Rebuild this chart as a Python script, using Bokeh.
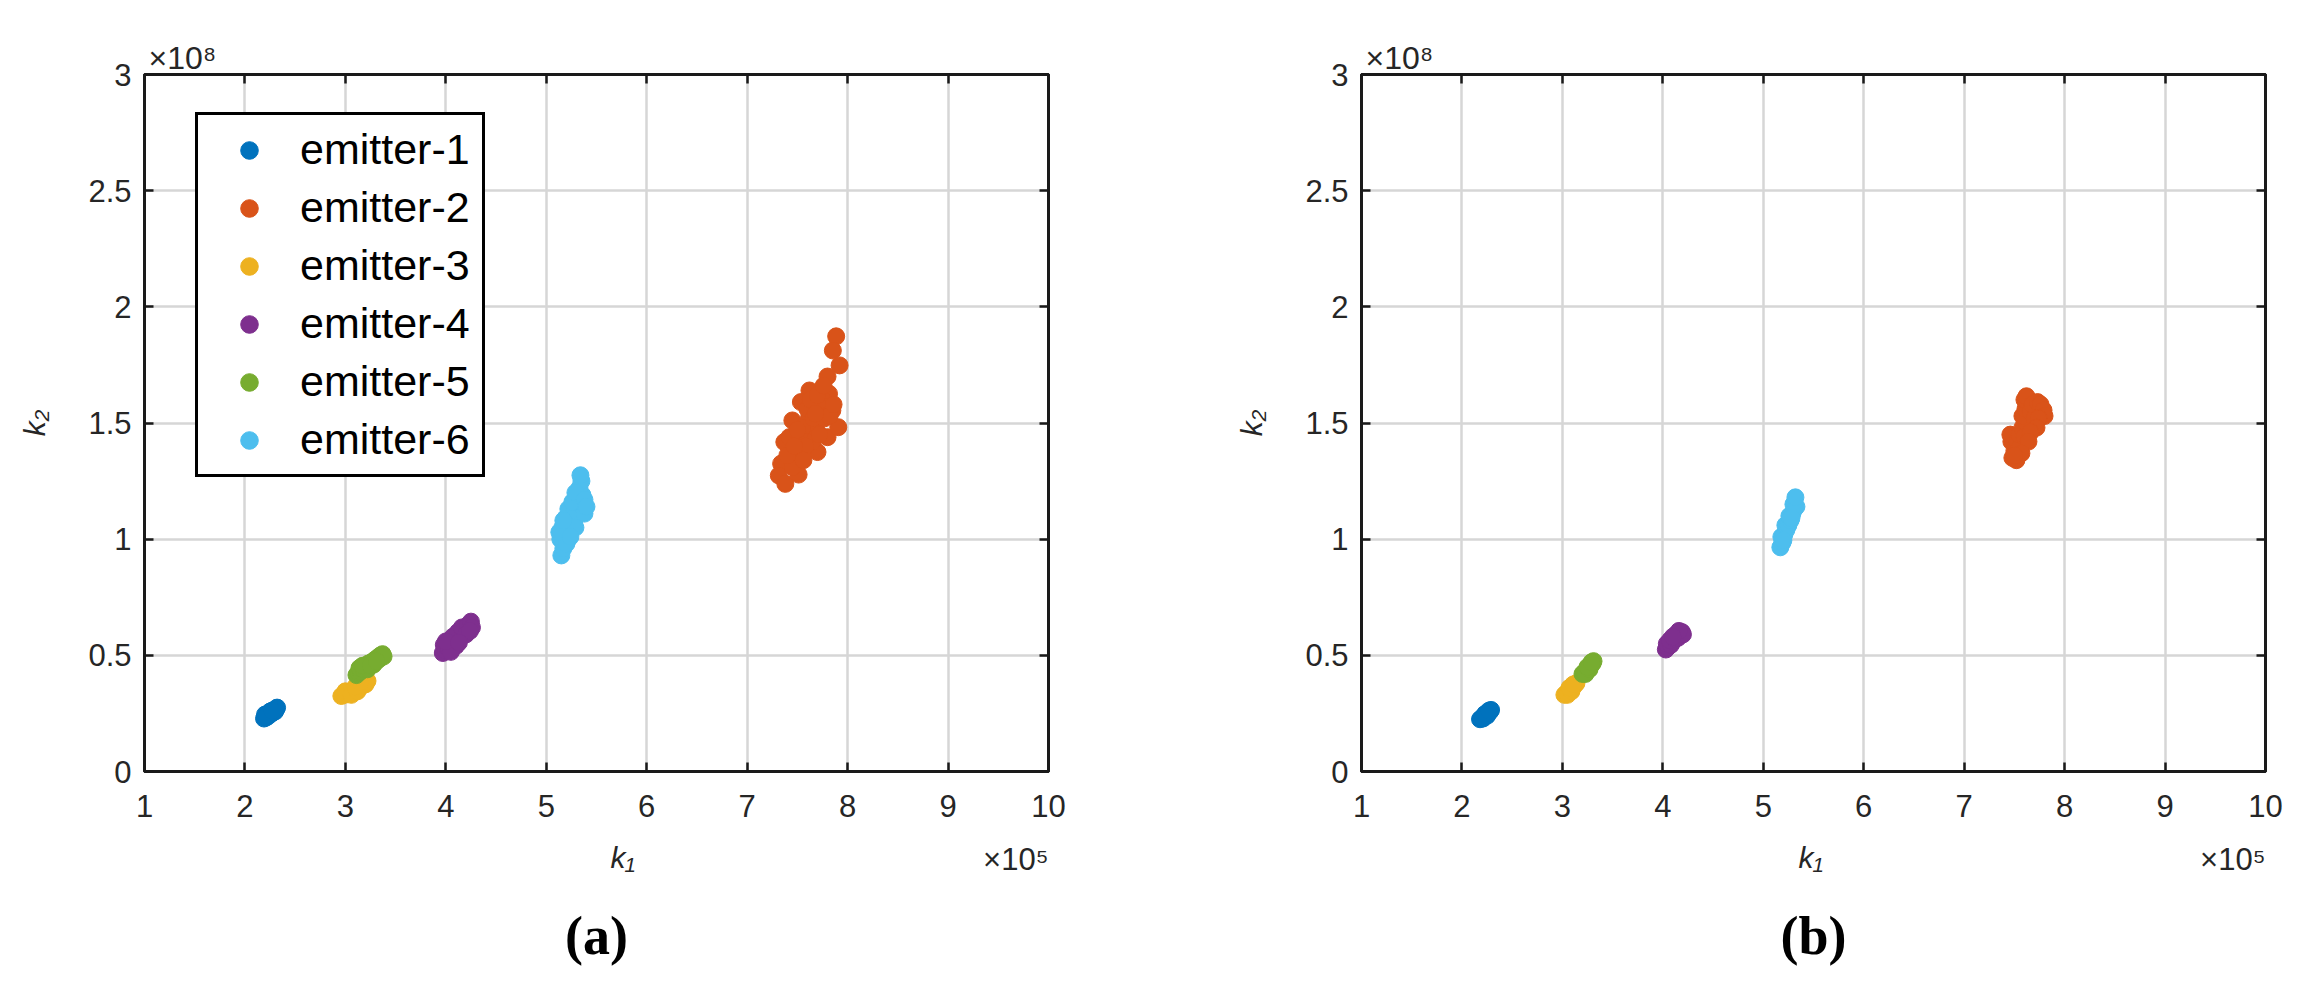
from bokeh.plotting import figure
from bokeh.models import (LinearAxis, FixedTicker, Legend, LegendItem, Title,
                          CustomJSTickFormatter, Range1d)
from bokeh.layouts import row
from bokeh.embed import file_html
from bokeh.resources import INLINE

# ---------------- data ----------------
emitters = ["emitter-1", "emitter-2", "emitter-3", "emitter-4", "emitter-5", "emitter-6"]
colors = ["#0072BD", "#D95319", "#EDB120", "#7E2F8E", "#77AC30", "#4DBEEE"]

x_ticks = [1, 2, 3, 4, 5, 6, 7, 8, 9, 10]
x_tick_labels = ["1", "2", "3", "4", "5", "6", "7", "8", "9", "10"]
y_ticks = [0, 0.5, 1, 1.5, 2, 2.5, 3]
y_tick_labels = ["0", "0.5", "1", "1.5", "2", "2.5", "3"]
x_label = "k\u2081"
y_label = "k\u2082"
x_exponent = "\u00d710\u2075"
y_exponent = "\u00d710\u2078"

# panel (a)  (x in units of 1e5, y in units of 1e8)
a_e1_x = [2.19, 2.21, 2.20, 2.23, 2.24, 2.26, 2.25, 2.28, 2.29, 2.31, 2.30, 2.32, 2.22, 2.27]
a_e1_y = [0.228, 0.232, 0.245, 0.238, 0.250, 0.248, 0.258, 0.255, 0.265, 0.268, 0.258, 0.275, 0.240, 0.262]
a_e2_x = [7.886, 7.853, 7.92, 7.80, 7.62, 7.535, 7.45, 7.37, 7.338, 7.315, 7.38, 7.512, 7.70, 7.80,
          7.907, 7.848, 7.815, 7.617, 7.585, 7.486, 7.716, 7.683, 7.453, 7.42, 7.75, 7.55, 7.65, 7.60,
          7.52, 7.58, 7.66, 7.72, 7.77, 7.82, 7.50, 7.40, 7.47, 7.63, 7.70, 7.76, 7.86, 7.56, 7.68]
a_e2_y = [1.873, 1.812, 1.748, 1.700, 1.640, 1.590, 1.511, 1.418, 1.325, 1.274, 1.238, 1.278, 1.375, 1.439,
          1.482, 1.554, 1.626, 1.525, 1.439, 1.382, 1.568, 1.482, 1.310, 1.439, 1.600, 1.480, 1.420, 1.560,
          1.440, 1.400, 1.520, 1.450, 1.520, 1.530, 1.470, 1.360, 1.400, 1.600, 1.620, 1.660, 1.580, 1.340, 1.540]
a_e3_x = [2.96, 2.99, 3.02, 3.00, 3.05, 3.08, 3.06, 3.11, 3.14, 3.12, 3.17, 3.20, 3.22, 3.10, 3.15]
a_e3_y = [0.325, 0.330, 0.335, 0.345, 0.340, 0.350, 0.330, 0.355, 0.360, 0.345, 0.370, 0.375, 0.390, 0.365, 0.385]
a_e4_x = [3.97, 4.00, 3.98, 4.03, 4.06, 4.02, 4.08, 4.11, 4.07, 4.14, 4.12, 4.17, 4.20, 4.16, 4.22,
          4.25, 4.26, 4.10, 4.20, 4.05, 4.24, 4.00, 4.13]
a_e4_y = [0.510, 0.520, 0.545, 0.530, 0.540, 0.560, 0.555, 0.570, 0.580, 0.580, 0.600, 0.595, 0.610, 0.620,
          0.630, 0.645, 0.620, 0.540, 0.590, 0.515, 0.605, 0.560, 0.555]
a_e5_x = [3.11, 3.13, 3.15, 3.14, 3.18, 3.20, 3.22, 3.23, 3.26, 3.28, 3.29, 3.32, 3.34, 3.35, 3.37, 3.38,
          3.17, 3.25, 3.31]
a_e5_y = [0.415, 0.425, 0.430, 0.445, 0.440, 0.455, 0.440, 0.465, 0.470, 0.460, 0.480, 0.490, 0.485, 0.500,
          0.505, 0.495, 0.455, 0.455, 0.475]
a_e6_x = [5.15, 5.17, 5.14, 5.18, 5.22, 5.16, 5.21, 5.25, 5.19, 5.24, 5.28, 5.22, 5.27, 5.31, 5.30, 5.34,
          5.36, 5.33, 5.35, 5.34, 5.26, 5.20, 5.29, 5.38, 5.13, 5.38, 5.40, 5.29, 5.24, 5.17]
a_e6_y = [0.930, 0.960, 1.000, 1.020, 1.000, 1.050, 1.060, 1.050, 1.090, 1.100, 1.080, 1.130, 1.140, 1.120,
          1.170, 1.150, 1.190, 1.220, 1.250, 1.275, 1.160, 0.980, 1.200, 1.110, 1.030, 1.170, 1.140, 1.050,
          1.010, 1.080]

# panel (b)
b_e1_x = [2.18, 2.20, 2.22, 2.21, 2.24, 2.26, 2.25, 2.28, 2.29, 2.23, 2.27]
b_e1_y = [0.225, 0.232, 0.238, 0.228, 0.245, 0.250, 0.240, 0.258, 0.265, 0.248, 0.262]
b_e2_x = [7.48, 7.52, 7.50, 7.47, 7.46, 7.53, 7.56, 7.55, 7.58, 7.60, 7.62, 7.58, 7.61, 7.60, 7.62, 7.66,
          7.70, 7.68, 7.73, 7.76, 7.79, 7.80, 7.74, 7.72, 7.66, 7.64, 7.57, 7.50]
b_e2_y = [1.350, 1.340, 1.380, 1.420, 1.450, 1.420, 1.400, 1.450, 1.480, 1.440, 1.500, 1.530, 1.560, 1.600,
          1.615, 1.550, 1.520, 1.580, 1.590, 1.580, 1.555, 1.530, 1.520, 1.480, 1.460, 1.420, 1.370, 1.360]
b_e3_x = [3.02, 3.04, 3.06, 3.05, 3.08, 3.10, 3.09, 3.12, 3.14, 3.07, 3.11]
b_e3_y = [0.330, 0.338, 0.345, 0.330, 0.352, 0.360, 0.345, 0.370, 0.380, 0.360, 0.375]
b_e4_x = [4.03, 4.05, 4.04, 4.08, 4.10, 4.07, 4.12, 4.15, 4.13, 4.17, 4.19, 4.20, 4.16, 4.10]
b_e4_y = [0.525, 0.535, 0.550, 0.545, 0.560, 0.565, 0.570, 0.575, 0.590, 0.585, 0.600, 0.590, 0.605, 0.580]
b_e5_x = [3.20, 3.22, 3.24, 3.23, 3.26, 3.28, 3.27, 3.30, 3.31, 3.25, 3.29]
b_e5_y = [0.420, 0.428, 0.435, 0.420, 0.445, 0.455, 0.440, 0.465, 0.475, 0.450, 0.470]
b_e6_x = [5.17, 5.19, 5.18, 5.21, 5.23, 5.22, 5.25, 5.27, 5.26, 5.29, 5.31, 5.30, 5.33, 5.32, 5.20, 5.28]
b_e6_y = [0.965, 0.985, 1.010, 1.020, 1.040, 1.060, 1.060, 1.080, 1.100, 1.110, 1.130, 1.150, 1.140, 1.180,
          0.995, 1.090]

panel_a = [(a_e1_x, a_e1_y), (a_e2_x, a_e2_y), (a_e3_x, a_e3_y),
           (a_e4_x, a_e4_y), (a_e5_x, a_e5_y), (a_e6_x, a_e6_y)]
panel_b = [(b_e1_x, b_e1_y), (b_e2_x, b_e2_y), (b_e3_x, b_e3_y),
           (b_e4_x, b_e4_y), (b_e5_x, b_e5_y), (b_e6_x, b_e6_y)]

# ---------------- layout constants ----------------
FW, FH = 904, 697
TOP = 74
BOTTOM = 215
FONT = "Liberation Sans"
TICK_COLOR = "#262626"
TICK_SIZE = "31px"


def style_axis(ax, ticks, labels, show_labels, standoff):
    ax.ticker = FixedTicker(ticks=ticks)
    if show_labels:
        ax.major_label_overrides = {t: l for t, l in zip(ticks, labels)}
        ax.major_label_text_font_size = TICK_SIZE
    else:
        ax.formatter = CustomJSTickFormatter(code="return ''")
        ax.major_label_text_font_size = "1px"
    ax.major_label_text_font = FONT
    ax.major_label_text_color = TICK_COLOR
    ax.major_label_standoff = standoff
    ax.major_tick_in = 9
    ax.major_tick_out = 0
    ax.major_tick_line_width = 2.5
    ax.major_tick_line_color = "#1a1a1a"
    ax.minor_tick_line_color = None
    ax.axis_line_color = "#1a1a1a"
    ax.axis_line_width = 3
    ax.axis_label_text_font = FONT
    ax.axis_label_text_font_size = "30px"
    ax.axis_label_text_font_style = "italic"
    ax.axis_label_text_color = TICK_COLOR


def make_panel(series, border_left, border_right, caption, k1_offset, with_legend):
    p = figure(frame_width=FW, frame_height=FH,
               x_range=Range1d(1, 10), y_range=Range1d(0, 3),
               output_backend="svg", toolbar_location=None,
               min_border_left=border_left, min_border_right=border_right,
               min_border_top=TOP, min_border_bottom=BOTTOM,
               background_fill_color="white", border_fill_color="white")
    p.outline_line_color = "#1a1a1a"
    p.outline_line_width = 3

    xa = p.xaxis[0]
    ya = p.yaxis[0]
    style_axis(xa, x_ticks, x_tick_labels, True, 23)
    style_axis(ya, y_ticks, y_tick_labels, True, 13)
    ya.axis_label = y_label
    ya.axis_label_standoff = 34
    ax_r = LinearAxis()
    style_axis(ax_r, y_ticks, y_tick_labels, False, 0)
    ax_t = LinearAxis()
    style_axis(ax_t, x_ticks, x_tick_labels, False, 0)
    p.add_layout(ax_r, "right")
    p.add_layout(ax_t, "above")

    # caption carried by a bare axis placed under the x axis
    cap = LinearAxis(ticker=FixedTicker(ticks=[]), axis_label=caption)
    cap.axis_line_color = None
    cap.major_tick_line_color = None
    cap.minor_tick_line_color = None
    cap.major_tick_in = 0
    cap.major_tick_out = 0
    cap.major_label_standoff = 0
    cap.axis_label_standoff = 86
    cap.axis_label_text_font = "Liberation Serif"
    cap.axis_label_text_font_style = "bold"
    cap.axis_label_text_font_size = "54px"
    cap.axis_label_text_color = "black"
    p.add_layout(cap, "below")

    p.xgrid.ticker = FixedTicker(ticks=x_ticks)
    p.ygrid.ticker = FixedTicker(ticks=y_ticks)
    for g in (p.xgrid, p.ygrid):
        g.grid_line_color = "#d6d6d6"
        g.grid_line_width = 2.5

    renderers = []
    for (xs, ys), c in zip(series, colors):
        r = p.scatter(xs, ys, size=17, fill_color=c, line_color=c, line_width=1)
        renderers.append(r)

    if with_legend:
        items = [LegendItem(label=n, renderers=[r]) for n, r in zip(emitters, renderers)]
        leg = Legend(items=items, location=(51, 294))
        leg.border_line_color = "#000000"
        leg.border_line_alpha = 1.0
        leg.border_line_width = 3
        leg.background_fill_color = "white"
        leg.background_fill_alpha = 1
        leg.padding = 10
        leg.spacing = 9
        leg.margin = 0
        leg.glyph_height = 44
        leg.glyph_width = 82
        leg.label_height = 44
        leg.label_width = 172
        leg.label_standoff = 10
        leg.label_text_font = FONT
        leg.label_text_font_size = "43px"
        leg.label_text_color = "black"
        p.add_layout(leg)

    # exponent above the top-left corner
    p.add_layout(Title(text=y_exponent, align="left", offset=4, standoff=-2,
                       text_font=FONT, text_font_size="32px", text_font_style="normal",
                       text_color=TICK_COLOR), "above")
    # x label (k1), lifted back up above the caption
    p.add_layout(Title(text=x_label, align="left", offset=k1_offset, vertical_align="top",
                       standoff=-255, text_font=FONT, text_font_size="30px",
                       text_font_style="italic", text_color=TICK_COLOR), "below")
    # exponent below the bottom-right corner
    p.add_layout(Title(text=x_exponent, align="right", offset=0, vertical_align="top",
                       standoff=-254, text_font=FONT, text_font_size="31px",
                       text_font_style="normal", text_color=TICK_COLOR), "below")
    return p


pa = make_panel(panel_a, 144, 100, "(a)", 466, True)
pb = make_panel(panel_b, 213, 45, "(b)", 437, False)

layout = row(pa, pb)
open("out.html", "w").write(file_html(layout, INLINE))
